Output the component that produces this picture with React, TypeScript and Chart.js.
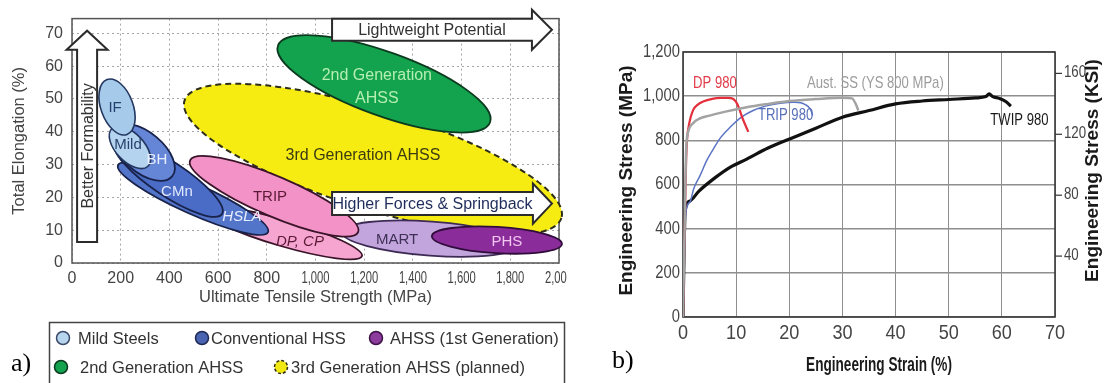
import React, { useEffect, useRef } from 'react';
import { Chart, registerables } from 'chart.js';

Chart.register(...registerables);

// ---------- Panel a: steel families, total elongation vs. tensile strength ----------
const familyNames = ['3rd Generation AHSS', '2nd Generation AHSS', 'MART', 'PHS', 'DP, CP', 'TRIP', 'HSLA', 'CMn', 'BH', 'Mild', 'IF'];
// ends of each band's long axis (tensile strength, MPa / total elongation, %)
const bandStartMPa = [462, 846, 1109, 1478, 546, 485, 189, 177, 177, 164, 144];
const bandStartElong = [49.5, 66.3, 9.4, 8.2, 16.1, 31.3, 29.8, 36.5, 41.0, 41.0, 55.9];
const bandEndMPa = [2010, 1717, 1840, 2012, 1191, 1175, 805, 616, 411, 312, 226];
const bandEndElong = [13.7, 42.9, 5.5, 5.8, 2.1, 9.4, 9.4, 14.9, 26.4, 29.5, 39.2];
// half of each band's short axis, in elongation points
const bandHalfElong = [15.2, 9.7, 5.2, 4.0, 4.0, 6.1, 4.6, 5.2, 6.1, 4.3, 4.9];
// anchor of each family name
const nameMPa = [1195, 1252, 1335, 1786, 936, 813, 698, 431, 349, 230, 177];
const nameElong = [32.8, 53.6, 7.0, 6.4, 6.4, 20.1, 14.0, 21.6, 31.3, 35.9, 47.4];

const strengthTicks = [0, 200, 400, 600, 800, 1000, 1200, 1400, 1600, 1800, 2000];
const elongationTicks = [0, 10, 20, 30, 40, 50, 60, 70];

const trendTexts = ['Lightweight Potential', 'Higher Forces & Springback', 'Better Formability'];
const trendFromMPa = [1068, 1068, 62];
const trendFromElong = [71.1, 18.1, 6.4];
const trendToMPa = [1971, 1971, 62];
const trendToElong = [71.1, 18.1, 70.8];

const legendNames = ['Mild Steels', 'Conventional HSS', 'AHSS (1st Generation)', '2nd Generation AHSS', '3rd Generation AHSS (planned)'];

// ---------- Panel b: engineering stress-strain curves ----------
const seriesNames = ['Aust. SS (YS 800 MPa)', 'DP 980', 'TRIP 980', 'TWIP 980'];
const austStrain = [0, 0.3, 0.6, 1, 2, 3, 5, 8, 12, 16, 20, 25, 30, 31.8, 32.5, 33];
const austStress = [0, 400, 760, 840, 880, 897, 912, 930, 950, 965, 978, 987, 993, 990, 965, 935];
const dpStrain = [0, 0.3, 0.6, 0.75, 1.2, 1.9, 2.8, 3.8, 5.5, 7, 8.5, 9.4, 10.3, 11.2, 12.3];
const dpStress = [0, 400, 720, 800, 880, 937, 962, 976, 988, 992, 992, 988, 960, 900, 838];
const tripStrain = [0, 0.2, 0.5, 1.3, 2, 3.2, 4.5, 5.7, 7, 8.9, 11, 13.2, 15.5, 18.3, 21, 23, 24, 24.4];
const tripStress = [0, 200, 470, 520, 580, 640, 710, 760, 810, 860, 905, 935, 955, 968, 972, 962, 940, 912];
const twipStrain = [0, 0.2, 0.4, 1.3, 3, 6, 9, 12, 16, 21, 25, 30, 35, 40, 45, 50, 55, 57, 57.6, 58.3, 59.5, 60.8, 61.7];
const twipStress = [0, 300, 480, 525, 570, 630, 680, 715, 765, 815, 855, 905, 935, 965, 978, 985, 992, 998, 1010, 998, 990, 975, 955];
// anchors of the curve names (strain %, stress MPa)
const seriesLabelStrain = [36.2, 6.0, 19.3, 63.3];
const seriesLabelStress = [1060, 1060, 912, 892];

const strainTicks = [0, 10, 20, 30, 40, 50, 60, 70];
const stressTicks = [0, 200, 400, 600, 800, 1000, 1200];
const ksiTicks = [40, 80, 120, 160];
const MPA_PER_KSI = 6.89476;

// ---------- styling ----------
const SANS = '"Liberation Sans", Arial, sans-serif';

type BandStyle = { fill: string; stroke: string; width: number; dash?: number[]; text: string; italic?: boolean };
const bandStyle: Record<string, BandStyle> = {
  '3rd Generation AHSS': { fill: '#f6ec12', stroke: '#2e2e18', width: 2, dash: [6, 4], text: '#3b3a12' },
  '2nd Generation AHSS': { fill: '#13a24e', stroke: '#0b3a1f', width: 1.8, text: '#b5efb0' },
  MART: { fill: '#c3a5dd', stroke: '#3e2b55', width: 1.8, text: '#3e3056' },
  PHS: { fill: '#8a2c9a', stroke: '#2f0c3a', width: 1.8, text: '#f3c6f0' },
  'DP, CP': { fill: '#f6a5d0', stroke: '#3a1428', width: 1.8, text: '#5a1a36', italic: true },
  TRIP: { fill: '#f292c6', stroke: '#3a1428', width: 1.8, text: '#5a1a36' },
  HSLA: { fill: '#5274c9', stroke: '#18224a', width: 1.8, text: '#e8eeff', italic: true },
  CMn: { fill: '#4a6cc6', stroke: '#18224a', width: 1.8, text: '#e0e8ff' },
  BH: { fill: '#6585d6', stroke: '#18224a', width: 1.8, text: '#e8eeff' },
  Mild: { fill: '#b4d3ee', stroke: '#233760', width: 1.6, text: '#27416e' },
  IF: { fill: '#a6caea', stroke: '#233760', width: 1.6, text: '#27416e' },
};
const bandLabelText: Record<string, string> = { '2nd Generation AHSS': '2nd Generation\nAHSS' };

const legendFill = ['#b8d5ee', '#4a64b2', '#8c3c9c', '#13a24e', '#f2e812'];
const legendStroke = ['#3a4a6a', '#1f2a55', '#3e1248', '#0b3a1f', '#2e2e18'];

const seriesColors = ['#a3a3a3', '#e3303c', '#5b74c4', '#111111'];
const seriesWidths = [2.5, 2.2, 1.5, 3.2];
const labelColors = ['#9c9c9c', '#e23a48', '#586fba', '#1a1a1a'];

const numberFormat = new Intl.NumberFormat('en-US');

// text squeezed horizontally, for narrow lettering
function condensedText(ctx: CanvasRenderingContext2D, text: string, x: number, y: number, font: string,
  squeeze: number, align: CanvasTextAlign, color: string, angle = 0) {
  ctx.save();
  ctx.translate(x, y);
  if (angle) ctx.rotate(angle);
  ctx.scale(squeeze, 1);
  ctx.font = font;
  ctx.textAlign = align;
  ctx.textBaseline = 'middle';
  ctx.fillStyle = color;
  ctx.fillText(text, 0, 0);
  ctx.restore();
}

function drawArrow(ctx: CanvasRenderingContext2D, x0: number, y0: number, x1: number, y1: number,
  half: number, headHalf: number, headLen: number, text: string) {
  const L = Math.hypot(x1 - x0, y1 - y0);
  const ux = (x1 - x0) / L, uy = (y1 - y0) / L;
  const nx = -uy, ny = ux;
  const bx = x1 - ux * headLen, by = y1 - uy * headLen;
  ctx.beginPath();
  ctx.moveTo(x0 + nx * half, y0 + ny * half);
  ctx.lineTo(bx + nx * half, by + ny * half);
  ctx.lineTo(bx + nx * headHalf, by + ny * headHalf);
  ctx.lineTo(x1, y1);
  ctx.lineTo(bx - nx * headHalf, by - ny * headHalf);
  ctx.lineTo(bx - nx * half, by - ny * half);
  ctx.lineTo(x0 - nx * half, y0 - ny * half);
  ctx.closePath();
  ctx.fillStyle = '#ffffff';
  ctx.fill();
  ctx.lineWidth = 2;
  ctx.strokeStyle = '#2b2b2b';
  ctx.stroke();
  ctx.save();
  ctx.translate((x0 + bx) / 2, (y0 + by) / 2);
  ctx.rotate(Math.atan2(uy, ux));
  ctx.font = `16px ${SANS}`;
  ctx.textAlign = 'center';
  ctx.textBaseline = 'middle';
  ctx.fillStyle = text === 'Higher Forces & Springback' ? '#1f2d5c' : '#333333';
  ctx.fillText(text, 0, 1);
  ctx.restore();
}

const steelBandsPlugin = {
  id: 'steelBands',
  beforeDatasetsDraw(chart: any) {
    const { ctx, chartArea: ca, scales } = chart;
    const ys = scales.y;
    ctx.save();
    ctx.strokeStyle = '#555555';
    ctx.lineWidth = 1.5;
    ctx.strokeRect(ca.left, ca.top, ca.right - ca.left, ca.bottom - ca.top);
    chart.data.datasets.forEach((ds: any, i: number) => {
      const pts = chart.getDatasetMeta(i).data;
      const p = pts[0], q = pts[1];
      const st = bandStyle[ds.label];
      const cx = (p.x + q.x) / 2, cy = (p.y + q.y) / 2;
      const a = Math.hypot(q.x - p.x, q.y - p.y) / 2;
      const b = Math.abs(ys.getPixelForValue(0) - ys.getPixelForValue(ds.halfElong));
      ctx.beginPath();
      ctx.ellipse(cx, cy, a, b, Math.atan2(q.y - p.y, q.x - p.x), 0, Math.PI * 2);
      ctx.fillStyle = st.fill;
      ctx.fill();
      ctx.setLineDash(st.dash || []);
      ctx.lineWidth = st.width;
      ctx.strokeStyle = st.stroke;
      ctx.stroke();
      ctx.setLineDash([]);
    });
    ctx.restore();
  },
  afterDatasetsDraw(chart: any) {
    const { ctx, scales } = chart;
    const xs = scales.x, ys = scales.y;
    ctx.save();
    const halfs = [11, 11.5, 10];
    const heads = [20, 20, 20.5];
    const lens = [20, 19, 19];
    trendTexts.forEach((t, i) => {
      drawArrow(ctx, xs.getPixelForValue(trendFromMPa[i]), ys.getPixelForValue(trendFromElong[i]),
        xs.getPixelForValue(trendToMPa[i]), ys.getPixelForValue(trendToElong[i]), halfs[i], heads[i], lens[i], t);
    });
    familyNames.forEach((name, i) => {
      const st = bandStyle[name];
      const lines = (bandLabelText[name] || name).split('\n');
      const x = xs.getPixelForValue(nameMPa[i]);
      const y = ys.getPixelForValue(nameElong[i]);
      ctx.font = `${st.italic ? 'italic ' : ''}${name.includes('Generation') ? 16 : 15}px ${SANS}`;
      ctx.fillStyle = st.text;
      ctx.textAlign = 'center';
      ctx.textBaseline = 'middle';
      lines.forEach((ln, k) => ctx.fillText(ln, x, y + (k - (lines.length - 1) / 2) * 23));
    });
    ctx.restore();
  },
  afterDraw(chart: any) {
    const { ctx, chartArea: ca, scales } = chart;
    // strength tick labels; the four-digit ones are set narrower
    scales.x.ticks.forEach((t: any) => {
      condensedText(ctx, numberFormat.format(t.value), scales.x.getPixelForValue(t.value), ca.bottom + 16,
        `16px ${SANS}`, t.value >= 1000 ? 0.7 : 1, 'center', '#444444');
    });
    // legend box
    ctx.save();
    ctx.strokeStyle = '#444444';
    ctx.lineWidth = 1.5;
    ctx.strokeRect(49.5, 322.5, 515, 80);
    const rowY = [338, 338, 338, 367, 367];
    const markX = [63, 202, 376, 61, 281];
    const textX = [78, 211, 390, 80, 291];
    ctx.font = `16.5px ${SANS}`;
    ctx.textBaseline = 'middle';
    ctx.textAlign = 'left';
    legendNames.forEach((n, i) => {
      ctx.beginPath();
      ctx.arc(markX[i], rowY[i], 6.5, 0, Math.PI * 2);
      ctx.fillStyle = legendFill[i];
      ctx.fill();
      ctx.lineWidth = 1.5;
      ctx.strokeStyle = legendStroke[i];
      ctx.setLineDash(i === 4 ? [3, 2] : []);
      ctx.stroke();
      ctx.setLineDash([]);
      ctx.fillStyle = '#333333';
      ctx.fillText(n, textX[i], rowY[i] + 1);
    });
    ctx.restore();
  },
};

const stressDecorPlugin = {
  id: 'stressDecor',
  beforeDatasetsDraw(chart: any) {
    const { ctx, chartArea: ca } = chart;
    ctx.save();
    ctx.strokeStyle = '#3a3a3a';
    ctx.lineWidth = 1.6;
    ctx.strokeRect(ca.left, ca.top, ca.right - ca.left, ca.bottom - ca.top);
    ctx.restore();
  },
  afterDatasetsDraw(chart: any) {
    const { ctx, scales } = chart;
    seriesNames.forEach((n, i) => {
      condensedText(ctx, n, scales.x.getPixelForValue(seriesLabelStrain[i]), scales.y.getPixelForValue(seriesLabelStress[i]),
        `17px ${SANS}`, 0.77, 'center', labelColors[i]);
    });
  },
  afterDraw(chart: any) {
    const { ctx, chartArea: ca, scales } = chart;
    const midY = (ca.top + ca.bottom) / 2;
    // tick labels
    scales.x.ticks.forEach((t: any) => {
      condensedText(ctx, numberFormat.format(t.value), scales.x.getPixelForValue(t.value), ca.bottom + 16,
        `21px ${SANS}`, 0.86, 'center', '#444444');
    });
    scales.y.ticks.forEach((t: any) => {
      condensedText(ctx, numberFormat.format(t.value), ca.left - 3, scales.y.getPixelForValue(t.value),
        `18px ${SANS}`, 0.82, 'right', '#444444');
    });
    ctx.save();
    ctx.strokeStyle = '#333333';
    ctx.lineWidth = 1.2;
    scales.y2.ticks.forEach((t: any) => {
      const py = scales.y2.getPixelForValue(t.value);
      ctx.beginPath();
      ctx.moveTo(ca.right, py);
      ctx.lineTo(ca.right + 7, py);
      ctx.stroke();
      condensedText(ctx, numberFormat.format(t.value), ca.right + 9, py - 1, `17px ${SANS}`, 0.78, 'left', '#444444');
    });
    ctx.restore();
    // axis titles
    condensedText(ctx, 'Engineering Strain (%)', (ca.left + ca.right) / 2 + 10, ca.bottom + 48,
      `bold 20px ${SANS}`, 0.68, 'center', '#1a1a1a');
    condensedText(ctx, 'Engineering Stress (MPa)', ca.left - 56, midY - 4, `bold 19px ${SANS}`, 1, 'center', '#1a1a1a', -Math.PI / 2);
    condensedText(ctx, 'Engineering Stress (KSI)', ca.right + 38, midY - 14, `bold 19px ${SANS}`, 1, 'center', '#1a1a1a', -Math.PI / 2);
  },
};

function setTicks(values: number[]) {
  return (scale: any) => {
    scale.ticks = values.map((v) => ({ value: v }));
  };
}

export default function App() {
  const aRef = useRef<HTMLCanvasElement>(null);
  const bRef = useRef<HTMLCanvasElement>(null);

  useEffect(() => {
    Chart.defaults.font.family = SANS;

    const bandSets = familyNames.map((name, i) => ({
      label: name,
      data: [
        { x: bandStartMPa[i], y: bandStartElong[i] },
        { x: bandEndMPa[i], y: bandEndElong[i] },
      ],
      halfElong: bandHalfElong[i],
      pointRadius: 0,
      showLine: false,
    }));

    const chartA = new Chart(aRef.current as HTMLCanvasElement, {
      type: 'scatter',
      data: { datasets: bandSets as any },
      options: {
        responsive: false,
        animation: false,
        events: [],
        layout: { padding: { left: 0, top: 18, right: 41, bottom: 76 } },
        plugins: { legend: { display: false }, tooltip: { enabled: false } },
        scales: {
          x: {
            type: 'linear',
            min: 0,
            max: 2000,
            afterBuildTicks: setTicks(strengthTicks),
            afterFit: (s: any) => { s.height = 44; },
            grid: { color: '#a6a6a6', lineWidth: 1, drawTicks: false },
            border: { display: false, dash: [2, 3] },
            ticks: { display: false },
            title: { display: true, text: 'Ultimate Tensile Strength (MPa)', color: '#444', font: { size: 16.5 }, padding: { top: 0, bottom: 0 } },
          },
          y: {
            type: 'linear',
            min: 0,
            max: 74.5,
            afterBuildTicks: setTicks(elongationTicks),
            afterFit: (s: any) => { s.width = 72; },
            grid: { color: '#a6a6a6', lineWidth: 1, drawTicks: false },
            border: { display: false, dash: [2, 3] },
            ticks: { color: '#444', font: { size: 16 }, padding: 9, autoSkip: false },
            title: { display: true, text: 'Total Elongation (%)', color: '#444', font: { size: 16.5 }, padding: { top: 10, bottom: 0 } },
          },
        },
      },
      plugins: [steelBandsPlugin],
    });

    const curves = [
      [austStrain, austStress],
      [dpStrain, dpStress],
      [tripStrain, tripStress],
      [twipStrain, twipStress],
    ];

    const chartB = new Chart(bRef.current as HTMLCanvasElement, {
      type: 'scatter',
      data: {
        datasets: curves.map(([sx, sy], i) => ({
          label: seriesNames[i],
          data: sx.map((v, k) => ({ x: v, y: sy[k] })),
          showLine: true,
          pointRadius: 0,
          borderColor: seriesColors[i],
          backgroundColor: seriesColors[i],
          borderWidth: seriesWidths[i],
          cubicInterpolationMode: 'monotone' as const,
          yAxisID: 'y',
        })),
      },
      options: {
        responsive: false,
        animation: false,
        events: [],
        layout: { padding: { left: 0, top: 52, right: 0, bottom: 0 } },
        plugins: { legend: { display: false }, tooltip: { enabled: false } },
        scales: {
          x: {
            type: 'linear',
            min: 0,
            max: 70,
            afterBuildTicks: setTicks(strainTicks),
            afterFit: (s: any) => { s.height = 66; },
            grid: { color: '#8e8e8e', lineWidth: 1, drawTicks: false },
            border: { display: false },
            ticks: { display: false },
          },
          y: {
            type: 'linear',
            position: 'left',
            min: 0,
            max: 1200,
            afterBuildTicks: setTicks(stressTicks),
            afterFit: (s: any) => { s.width = 113; },
            grid: { color: '#8e8e8e', lineWidth: 1.6, drawTicks: false },
            border: { display: false },
            ticks: { display: false },
          },
          y2: {
            type: 'linear',
            position: 'right',
            min: 0,
            max: 1200 / MPA_PER_KSI,
            afterBuildTicks: setTicks(ksiTicks),
            afterFit: (s: any) => { s.width = 55; },
            grid: { display: false },
            border: { display: false },
            ticks: { display: false },
          },
        },
      },
      plugins: [stressDecorPlugin],
    });

    return () => {
      chartA.destroy();
      chartB.destroy();
    };
  }, []);

  const tag: React.CSSProperties = {
    position: 'absolute',
    fontFamily: '"Liberation Serif", "Times New Roman", serif',
    fontSize: 26,
    lineHeight: '26px',
    color: '#000',
  };

  return (
    <div style={{ position: 'absolute', left: 0, top: 0, width: 1110, height: 383, background: '#fff', overflow: 'hidden' }}>
      <div style={{ position: 'absolute', left: 0, top: 0, width: 567, height: 383, overflow: 'hidden' }}>
        <canvas ref={aRef} width={600} height={383} style={{ display: 'block' }} />
      </div>
      <div style={{ position: 'absolute', left: 570, top: 0, width: 540, height: 383 }}>
        <canvas ref={bRef} width={540} height={383} style={{ display: 'block' }} />
      </div>
      <span style={{ ...tag, left: 11, top: 350 }}>a)</span>
      <span style={{ ...tag, left: 612, top: 347 }}>b)</span>
    </div>
  );
}
